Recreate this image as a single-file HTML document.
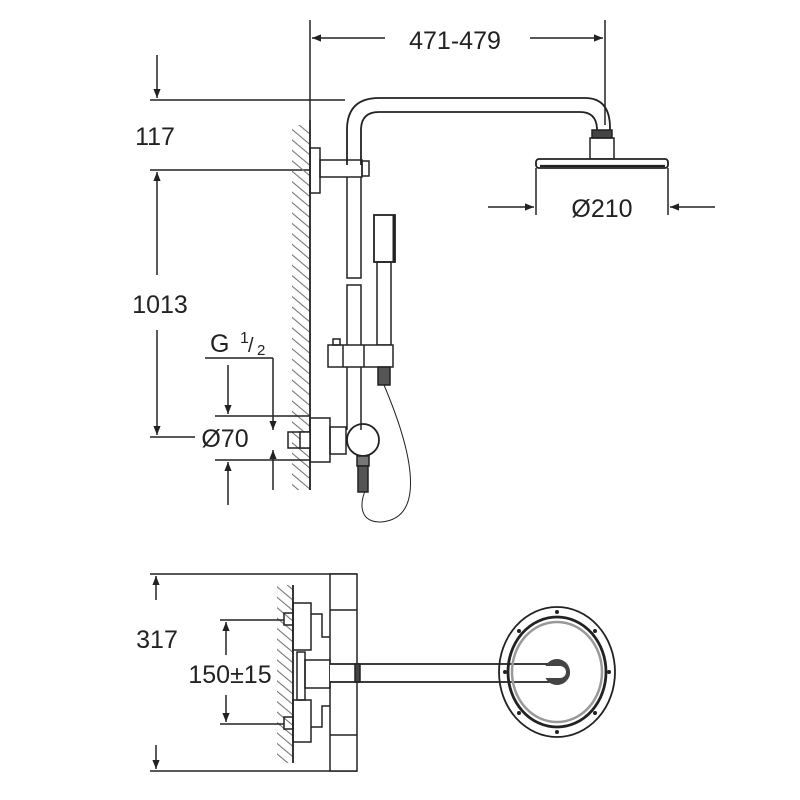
<!DOCTYPE html>
<html><head><style>html,body{margin:0;padding:0;background:#fff}svg{display:block}</style></head>
<body>
<svg width="800" height="800" viewBox="0 0 800 800" xmlns="http://www.w3.org/2000/svg">
<defs>
<marker id="a" viewBox="0 0 10 10" refX="10" refY="5" markerWidth="10" markerHeight="9" orient="auto-start-reverse" markerUnits="userSpaceOnUse"><path d="M0,1 L10,5 L0,9z" fill="#222"/></marker>
<pattern id="h" width="8" height="8" patternUnits="userSpaceOnUse" patternTransform="rotate(-50)"><line x1="0" y1="0" x2="0" y2="8" stroke="#777" stroke-width="2.2"/></pattern>
</defs>
<g fill="none" stroke="#222" stroke-width="1.5" font-family="Liberation Sans, sans-serif">
<!-- top dimension -->
<line x1="310" y1="20" x2="310" y2="120"/>
<line x1="605" y1="20" x2="605" y2="125"/>
<line x1="312" y1="38" x2="385" y2="38" marker-start="url(#a)"/>
<line x1="530" y1="38" x2="603" y2="38" marker-end="url(#a)"/>
<text x="455" y="49" font-size="25" fill="#222" stroke="none" text-anchor="middle">471-479</text>
<!-- 117 / 1013 -->
<line x1="150" y1="100" x2="345" y2="100"/>
<line x1="157" y1="55" x2="157" y2="98" marker-end="url(#a)"/>
<text x="155" y="145" font-size="25" fill="#222" stroke="none" text-anchor="middle">117</text>
<line x1="150" y1="170" x2="310" y2="170"/>
<line x1="157" y1="172" x2="157" y2="275" marker-start="url(#a)"/>
<line x1="157" y1="330" x2="157" y2="435" marker-end="url(#a)"/>
<text x="160" y="313" font-size="25" fill="#222" stroke="none" text-anchor="middle">1013</text>
<line x1="150" y1="437" x2="195" y2="437"/>
<!-- wall -->
<rect x="292" y="125" width="18" height="365" fill="url(#h)" stroke="none"/>
<line x1="310" y1="120" x2="310" y2="490" stroke-width="1.8"/>
<!-- arm -->
<path d="M347,165 L347,130 Q347,98 379,98 L585,98 Q610,98 610,128 L610,132" stroke-width="1.8"/>
<path d="M361,165 L361,130 Q361,112 379,112 L580,112 Q597,112 597,130 L597,132" stroke-width="1.8"/>
<rect x="592" y="130" width="20" height="8" fill="#444"/>
<rect x="590" y="138" width="24" height="21"/>
<rect x="536" y="159" width="132" height="9" rx="3" fill="#fff" stroke-width="1.8"/>
<line x1="540" y1="166" x2="665" y2="166" stroke-width="2.2"/>
<!-- Ø210 -->
<line x1="536" y1="168" x2="536" y2="215"/>
<line x1="668" y1="168" x2="668" y2="215"/>
<line x1="488" y1="207" x2="534" y2="207" marker-end="url(#a)"/>
<line x1="715" y1="207" x2="670" y2="207" marker-end="url(#a)"/>
<text x="602" y="217" font-size="25" fill="#222" stroke="none" text-anchor="middle">Ø210</text>
<!-- bracket -->
<rect x="310" y="148" width="10" height="45"/>
<rect x="320" y="160" width="42" height="17"/>
<rect x="362" y="161" width="7" height="15"/>
<!-- rail -->
<path d="M347,177 L347,278 L361,278 L361,177"/>
<path d="M347,430 L347,285 L361,285 L361,430"/>
<!-- hand shower -->
<rect x="374" y="215" width="21" height="47" stroke-width="1.8"/>
<line x1="394" y1="215" x2="394" y2="262" stroke-width="3"/>
<rect x="377" y="262" width="14" height="83"/>
<rect x="328" y="345" width="65" height="22" fill="#fff"/>
<rect x="333" y="339" width="7" height="6"/>
<line x1="343" y1="345" x2="343" y2="367"/><line x1="364" y1="345" x2="364" y2="367"/>
<rect x="378" y="367" width="12" height="18" fill="#555"/>
<path d="M384,385 C420,470 420,520 380,522 C355,522 362,495 366,490" stroke-width="1"/>
<!-- mixer -->
<rect x="310" y="418" width="20" height="44"/>
<rect x="330" y="427" width="16" height="27"/>
<circle cx="363" cy="440" r="16" stroke-width="1.8"/>
<rect x="357" y="456" width="12" height="10" fill="#777"/>
<rect x="358" y="466" width="10" height="26" fill="#555"/>
<rect x="288" y="432" width="22" height="16"/>
<rect x="300" y="432" width="10" height="16" fill="#fff"/>
<!-- G1/2, Ø70 -->
<text x="210" y="352" font-size="25" fill="#222" stroke="none">G</text>
<text x="240" y="343" font-size="16" fill="#222" stroke="none">1</text>
<text x="248" y="352" font-size="20" fill="#222" stroke="none">/</text>
<text x="257" y="355" font-size="15" fill="#222" stroke="none">2</text>
<line x1="205" y1="358" x2="273" y2="358"/>
<line x1="273" y1="358" x2="273" y2="430" marker-end="url(#a)"/>
<line x1="273" y1="490" x2="273" y2="450" marker-end="url(#a)"/>
<line x1="215" y1="416" x2="310" y2="416"/>
<line x1="215" y1="460" x2="310" y2="460"/>
<line x1="228" y1="365" x2="228" y2="414" marker-end="url(#a)"/>
<line x1="228" y1="505" x2="228" y2="462" marker-end="url(#a)"/>
<text x="225" y="447" font-size="25" fill="#222" stroke="none" text-anchor="middle">Ø70</text>
<!-- bottom view -->
<line x1="150" y1="574" x2="357" y2="574"/>
<line x1="150" y1="771" x2="357" y2="771"/>
<line x1="156" y1="600" x2="156" y2="576" marker-end="url(#a)"/>
<line x1="156" y1="745" x2="156" y2="769" marker-end="url(#a)"/>
<text x="157" y="648" font-size="25" fill="#222" stroke="none" text-anchor="middle">317</text>
<rect x="277" y="585" width="16" height="178" fill="url(#h)" stroke="none"/>
<line x1="293" y1="585" x2="293" y2="763" stroke-width="1.8"/>
<rect x="330" y="574" width="27" height="197" fill="#fff"/>
<line x1="330" y1="610" x2="357" y2="610"/><line x1="330" y1="735" x2="357" y2="735"/>
<path d="M311,614 L322,614 L322,637 L330,637"/><path d="M311,727 L322,727 L322,706 L330,706"/>
<rect x="293" y="603" width="18" height="47"/>
<rect x="293" y="700" width="18" height="42"/>
<rect x="284" y="613" width="9" height="12"/>
<rect x="284" y="717" width="9" height="12"/>
<rect x="297" y="652" width="8" height="48"/>
<rect x="305" y="660" width="25" height="28"/>
<path d="M330,664 L560,664 A9,9 0 0 1 560,682 L330,682" fill="#fff" stroke-width="1.8"/>
<rect x="355" y="664" width="5" height="18" fill="#444"/>
<ellipse cx="557" cy="672" rx="58" ry="65" stroke-width="1.8"/>
<ellipse cx="557" cy="672" rx="49" ry="55" stroke-width="2.8"/>
<ellipse cx="557" cy="672" rx="45" ry="50" stroke="#999" stroke-width="2.5"/>
<circle cx="557" cy="672" r="13" fill="#444" stroke="none"/>
<path d="M540,666 L560,666 A6,6 0 0 1 560,678 L540,678" fill="#fff" stroke="none"/>
<g fill="#222" stroke="none">
<circle cx="557" cy="612" r="2"/><circle cx="557" cy="732" r="2"/><circle cx="609" cy="672" r="2"/><circle cx="505" cy="672" r="2"/>
<circle cx="595" cy="631" r="2"/><circle cx="519" cy="631" r="2"/><circle cx="595" cy="713" r="2"/><circle cx="519" cy="713" r="2"/>
</g>
<line x1="220" y1="620" x2="284" y2="620"/>
<line x1="220" y1="724" x2="284" y2="724"/>
<line x1="226" y1="655" x2="226" y2="622" marker-end="url(#a)"/>
<line x1="226" y1="695" x2="226" y2="722" marker-end="url(#a)"/>
<text x="230" y="683" font-size="25" fill="#222" stroke="none" text-anchor="middle">150±15</text>
</g>
</svg>
</body></html>
